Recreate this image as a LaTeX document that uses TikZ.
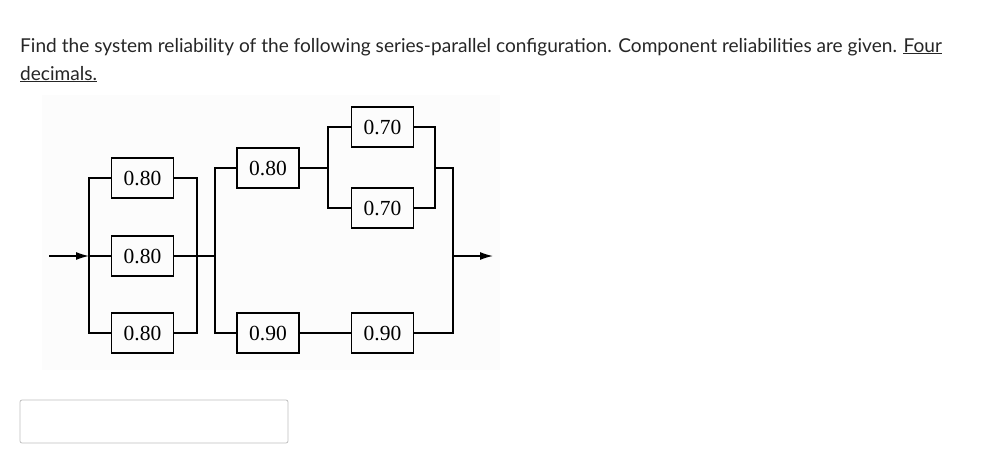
\documentclass[tikz,border=0pt]{standalone}
\usepackage{fontspec}
\setmainfont{Lato}
\newfontfamily\tnr{Liberation Serif}
\usetikzlibrary{arrows.meta}
\begin{document}
\begin{tikzpicture}[x=1pt,y=-1pt,
  comp/.style={draw, line width=1.3pt, minimum width=62pt, minimum height=40pt, inner sep=0pt, font=\tnr\fontsize{21.5}{23}\selectfont},
  wire/.style={line width=1.3pt},
  tip/.style={-{Latex[length=13pt,width=8pt]}},
  txt/.style={anchor=base west, inner sep=0pt, font=\fontsize{19.1}{22}\selectfont, text=black!85}]
\useasboundingbox (0,0) rectangle (994,475);
\fill[black!1.2] (42,95) rectangle (500,370);
\node[txt] (t1) at (20,52) {Find the system reliability of the following series-parallel configuration. Component reliabilities are given. \underline{Four}};
\node[txt] (t2) at (20,80) {\underline{decimals.}};
\node[draw=black!25, rounded corners=2pt, line width=0.8pt, minimum width=268pt, minimum height=43pt, inner sep=0pt] (ans) at (154,421.5) {};
\node[comp] (a1) at (142.5,178) {0.80};
\node[comp] (a2) at (142.5,256) {0.80};
\node[comp] (a3) at (142.5,333) {0.80};
\node[comp] (b1) at (268,168) {0.80};
\node[comp] (b2) at (268,333) {0.90};
\node[comp] (c1) at (382.5,127) {0.70};
\node[comp] (c2) at (382.5,208) {0.70};
\node[comp] (c3) at (382.5,333) {0.90};
\coordinate (in) at (49,256);
\coordinate (L) at (89,256);
\coordinate (R) at (197,256);
\coordinate (J) at (215,256);
\coordinate (S) at (328,168);
\coordinate (T) at (435,168);
\coordinate (O) at (453,256);
\coordinate (out) at (493,256);
\draw[wire,tip] (in) -- (L);
\draw[wire] (a1.west) -| (L) |- (a3.west) (L) -- (a2.west);
\draw[wire] (a1.east) -| (R) |- (a3.east) (R) -- (a2.east);
\draw[wire] (R) -- (J);
\draw[wire] (b1.west) -| (J) |- (b2.west);
\draw[wire] (b1.east) -- (S);
\draw[wire] (c1.west) -| (S) |- (c2.west);
\draw[wire] (c1.east) -| (T) |- (c2.east);
\draw[wire] (T) -| (O) |- (c3.east);
\draw[wire] (b2.east) -- (c3.west);
\draw[wire,tip] (O) -- (out);
\end{tikzpicture}
\end{document}
